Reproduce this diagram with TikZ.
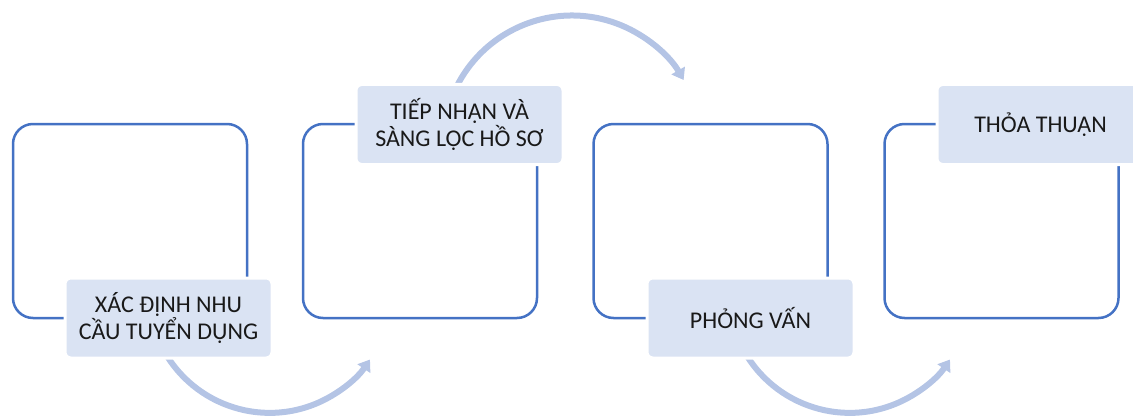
\documentclass[tikz,border=0pt]{standalone}
\usepackage{fontspec}
\setmainfont{Carlito}
\usepackage{tikz}
\usetikzlibrary{arrows.meta,positioning}
\definecolor{myblue}{RGB}{68,114,196}
\definecolor{mypale}{RGB}{218,227,243}
\definecolor{myflow}{RGB}{180,196,229}
\tikzstyle{stepbox}=[draw=myblue,line width=2.5pt,rounded corners=20pt,minimum width=234pt,minimum height=194pt,inner sep=0pt]
\tikzstyle{steplabel}=[draw=white,line width=3pt,fill=mypale,rounded corners=6pt,minimum width=207pt,minimum height=80pt,align=center,font=\fontsize{24}{27}\selectfont,text=black!90]
\tikzstyle{flow}=[draw=myflow,line width=6pt,-{Triangle[width=15pt,length=11pt]}]

\begin{document}
\begin{tikzpicture}[x=1pt,y=1pt]
\useasboundingbox (0,0) rectangle (1133,416);
% arcs between the steps
\coordinate (s1) at (160,73);
\coordinate (s2) at (455,326);
\coordinate (s3) at (740,73);
\draw[flow] (s1) arc[start angle=205,end angle=326,radius=121];
\draw[flow] (s2) arc[start angle=155,end angle=30,radius=129];
\draw[flow] (s3) arc[start angle=205,end angle=326,radius=121];
% frames
\node[stepbox] (b1) at (130,195) {};
\node[stepbox] (b2) at (420,195) {};
\node[stepbox] (b3) at (710.5,195) {};
\node[stepbox] (b4) at (1001.5,195) {};
% labels
\node[steplabel] (l1) at (168.5,98) {XÁC ĐỊNH NHU\\CẦU TUYỂN DỤNG};
\node[steplabel] (l2) at (459.5,291.5) {TIẾP NHẬN VÀ\\SÀNG LỌC HỒ SƠ};
\node[steplabel] (l3) at (750.5,98) {PHỎNG VẤN};
\node[steplabel] (l4) at (1040.5,291.5) {THỎA THUẬN};
\end{tikzpicture}
\end{document}
